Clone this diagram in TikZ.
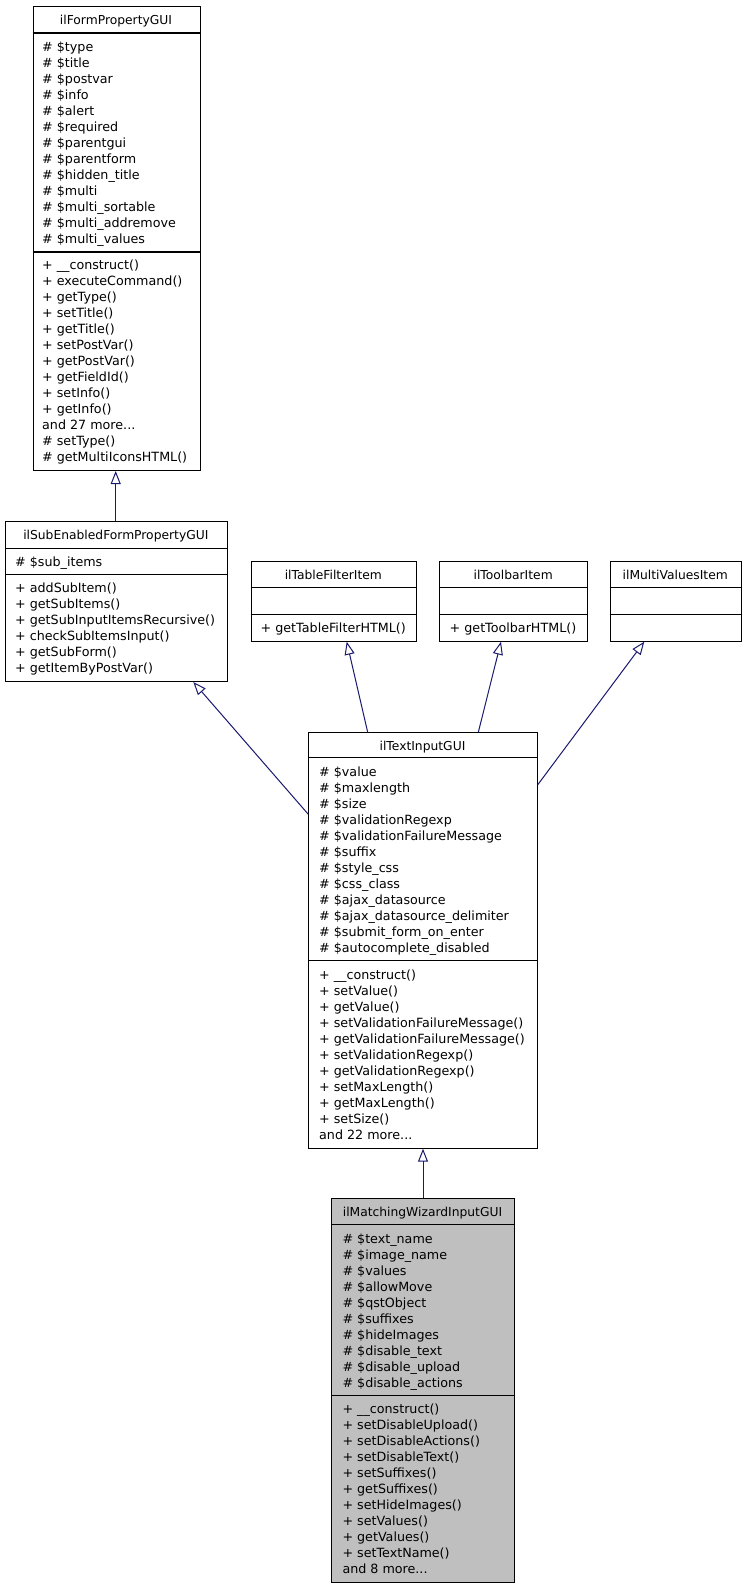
\documentclass[tikz,border=0pt]{standalone}
\usepackage{fontspec}
\setmainfont{DejaVu Sans}
\usetikzlibrary{arrows.meta}
\definecolor{edge}{HTML}{191970}
\definecolor{hl}{HTML}{BFBFBF}
\newcommand\mydots{...}
\begin{document}
\begin{tikzpicture}[x=1pt,y=-1pt,
  box/.style={draw=black,line width=1pt,inner sep=0pt,anchor=north west},
  sepline/.style={draw=black,line width=1.5pt},
  txt/.style={anchor=base west,inner sep=0pt,font=\fontsize{12.7}{14}\selectfont},
  ttl/.style={anchor=base,inner sep=0pt,font=\fontsize{12.3}{14}\selectfont},
  inh/.style={draw=edge,line width=1pt,-{Triangle[length=13pt,width=10pt,fill=white]}}]
\useasboundingbox (0,0) rectangle (744,1589);
\fill[white] (0,0) rectangle (744,1589);

% ilFormPropertyGUI
\node[box,minimum width=167pt,minimum height=464pt] (b1) at (32.5,6) {};
\draw[sepline] (32.5,33) -- (199.5,33);
\draw[sepline] (32.5,252) -- (199.5,252);
\node[ttl] (b1t) at (116,24.3) {ilFormPropertyGUI};
\foreach \t [count=\i from 0] in {\# \$type,\# \$title,\# \$postvar,\# \$info,\# \$alert,\# \$required,\# \$parentgui,\# \$parentform,\# \$hidden\_title,\# \$multi,\# \$multi\_sortable,\# \$multi\_addremove,\# \$multi\_values}
  \node[txt] (b1a\i) at (42,51.7+16*\i) {\t};
\foreach \t [count=\i from 0] in {+ \_\_construct(),+ executeCommand(),+ getType(),+ setTitle(),+ getTitle(),+ setPostVar(),+ getPostVar(),+ getFieldId(),+ setInfo(),+ getInfo(),and 27 more\mydots,\# setType(),\# getMultiIconsHTML()}
  \node[txt] (b1m\i) at (42,269.7+16*\i) {\t};

% ilSubEnabledFormPropertyGUI
\node[box,minimum width=221.7pt,minimum height=160pt] (b2) at (5,521) {};
\draw[sepline] (5,548.3) -- (226.7,548.3);
\draw[sepline] (5,574.3) -- (226.7,574.3);
\node[ttl] (b2t) at (115.85,539.7) {ilSubEnabledFormPropertyGUI};
\node[txt] (b2a0) at (15,566) {\# \$sub\_items};
\foreach \t [count=\i from 0] in {+ addSubItem(),+ getSubItems(),+ getSubInputItemsRecursive(),+ checkSubItemsInput(),+ getSubForm(),+ getItemByPostVar()}
  \node[txt] (b2m\i) at (15,592.3+16*\i) {\t};

% ilTableFilterItem
\node[box,minimum width=165.3pt,minimum height=79.7pt] (b3) at (250.7,561) {};
\draw[sepline] (250.7,587.7) -- (416,587.7);
\draw[sepline] (250.7,614.7) -- (416,614.7);
\node[ttl] (b3t) at (333.35,579) {ilTableFilterItem};
\node[txt] (b3m0) at (260.5,632.5) {+ getTableFilterHTML()};

% ilToolbarItem
\node[box,minimum width=148.3pt,minimum height=79.7pt] (b4) at (439,561) {};
\draw[sepline] (439,587.7) -- (587.3,587.7);
\draw[sepline] (439,614.7) -- (587.3,614.7);
\node[ttl] (b4t) at (513.15,579) {ilToolbarItem};
\node[txt] (b4m0) at (449.5,632.5) {+ getToolbarHTML()};

% ilMultiValuesItem
\node[box,minimum width=130.5pt,minimum height=79.7pt] (b5) at (610,561) {};
\draw[sepline] (610,587.7) -- (740.5,587.7);
\draw[sepline] (610,614.7) -- (740.5,614.7);
\node[ttl] (b5t) at (675.25,579) {ilMultiValuesItem};

% ilTextInputGUI
\node[box,minimum width=228.4pt,minimum height=415.4pt] (b6) at (308.3,732.3) {};
\draw[sepline] (308.3,757.7) -- (536.7,757.7);
\draw[sepline] (308.3,960.7) -- (536.7,960.7);
\node[ttl] (b6t) at (422.5,750.2) {ilTextInputGUI};
\foreach \t [count=\i from 0] in {\# \$value,\# \$maxlength,\# \$size,\# \$validationRegexp,\# \$validationFailureMessage,\# \$suffix,\# \$style\_css,\# \$css\_class,\# \$ajax\_datasource,\# \$ajax\_datasource\_delimiter,\# \$submit\_form\_on\_enter,\# \$autocomplete\_disabled}
  \node[txt] (b6a\i) at (319,776.5+16*\i) {\t};
\foreach \t [count=\i from 0] in {+ \_\_construct(),+ setValue(),+ getValue(),+ setValidationFailureMessage(),+ getValidationFailureMessage(),+ setValidationRegexp(),+ getValidationRegexp(),+ setMaxLength(),+ getMaxLength(),+ setSize(),and 22 more\mydots}
  \node[txt] (b6m\i) at (319,979.7+16*\i) {\t};

% ilMatchingWizardInputGUI
\node[box,fill=hl,minimum width=183pt,minimum height=383.7pt] (b7) at (331,1198.3) {};
\draw[sepline] (331,1224.3) -- (514,1224.3);
\draw[sepline] (331,1395.7) -- (514,1395.7);
\node[ttl] (b7t) at (422.5,1216.6) {ilMatchingWizardInputGUI};
\foreach \t [count=\i from 0] in {\# \$text\_name,\# \$image\_name,\# \$values,\# \$allowMove,\# \$qstObject,\# \$suffixes,\# \$hideImages,\# \$disable\_text,\# \$disable\_upload,\# \$disable\_actions}
  \node[txt] (b7a\i) at (342.3,1243.2+16*\i) {\t};
\foreach \t [count=\i from 0] in {+ \_\_construct(),+ setDisableUpload(),+ setDisableActions(),+ setDisableText(),+ setSuffixes(),+ getSuffixes(),+ setHideImages(),+ setValues(),+ getValues(),+ setTextName(),and 8 more\mydots}
  \node[txt] (b7m\i) at (342.3,1413.5+16*\i) {\t};

% inheritance connectors
\draw[inh] ([xshift=110.7pt]b2.north west) -- ([xshift=83.2pt]b1.south west);
\draw[inh] ([yshift=-82pt]b6.north west) -- ([xshift=188.3pt]b2.south west);
\draw[inh] ([xshift=59.4pt]b6.north west) -- ([xshift=96pt]b3.south west);
\draw[inh] ([xshift=170pt]b6.north west) -- ([xshift=62pt]b4.south west);
\draw[inh] ([yshift=-52.5pt]b6.north east) -- ([xshift=34.3pt]b5.south west);
\draw[inh] (b7.north) -- (b6.south);
\end{tikzpicture}
\end{document}
